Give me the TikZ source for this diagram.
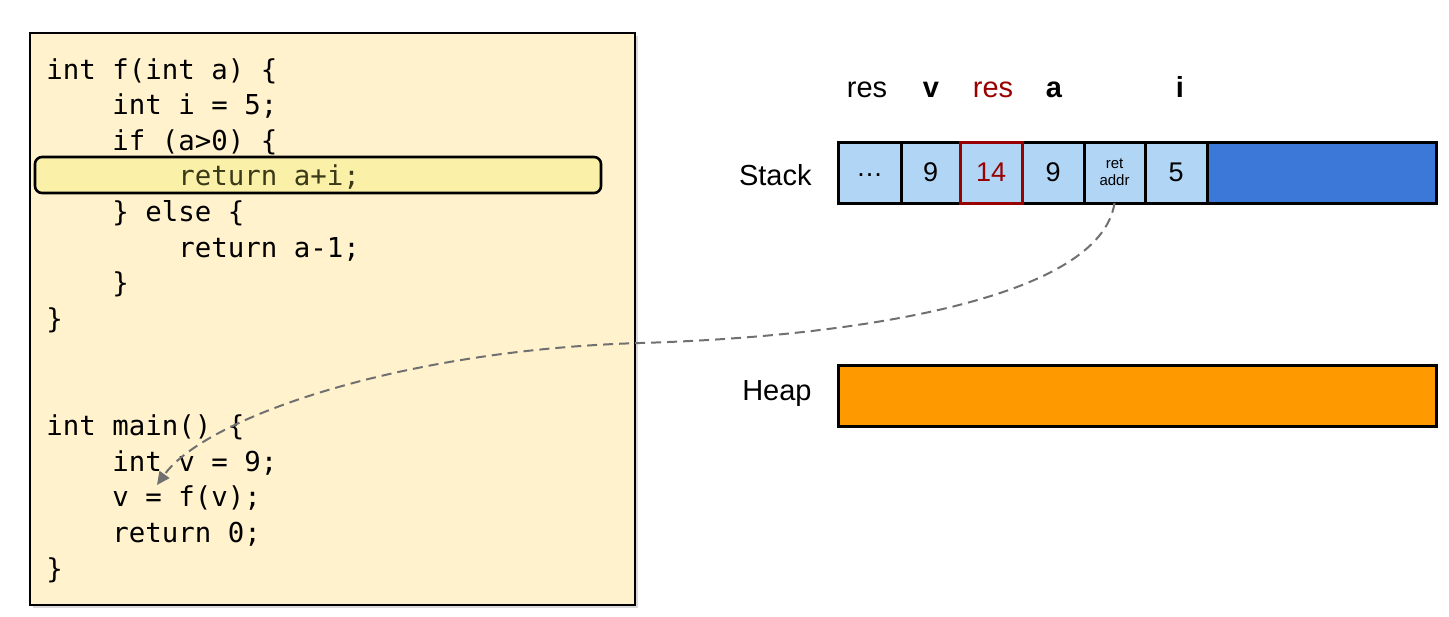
\documentclass[tikz,border=0pt]{standalone}
\usepackage{fontspec}
\setmainfont{Liberation Sans}
\setmonofont{DejaVu Sans Mono}
\usetikzlibrary{arrows.meta,shadows}

\definecolor{codebg}{HTML}{FFF2CC}
\definecolor{hlfill}{HTML}{FAF0A8}
\definecolor{hltext}{HTML}{3A3A18}
\definecolor{cellblue}{HTML}{B0D5F5}
\definecolor{freeblue}{HTML}{3C78D8}
\definecolor{heaporange}{HTML}{FF9900}
\definecolor{darkred}{HTML}{990000}
\definecolor{linkgray}{HTML}{707070}

\tikzset{
  codeline/.style={anchor=base west, inner sep=0pt, font=\ttfamily\fontsize{13.7}{17.8}\selectfont},
  varlabel/.style={anchor=base, inner sep=0pt, font=\fontsize{14.5}{17}\selectfont},
  regionlabel/.style={anchor=east, inner sep=0pt, font=\fontsize{14.5}{17}\selectfont},
  cell/.style={draw=black, line width=1.5pt, fill=cellblue, minimum height=30.5pt,
    inner sep=0pt, outer sep=0pt, font=\fontsize{13.5}{16}\selectfont},
  smallcell/.style={cell, align=center, font=\fontsize{7.5}{8.5}\selectfont},
  link/.style={draw=linkgray, line width=1pt, dash pattern=on 5pt off 3pt,
    -{Triangle[length=6.5pt,width=6pt]}},
}

\begin{document}
\begin{tikzpicture}[x=0.5pt, y=-0.5pt]
\useasboundingbox (0,0) rectangle (1449,616);

% source listing
\node[draw=black, line width=1pt, fill=codebg, minimum width=302.5pt, minimum height=286pt,
      inner sep=0pt, drop shadow={shadow xshift=1.5pt, shadow yshift=-1.5pt, opacity=0.3}]
  (code) at (332.5,319) {};
\node[draw=black, line width=1.3pt, fill=hlfill, rounded corners=3.5pt,
      minimum width=283pt, minimum height=18pt, inner sep=0pt] (current) at (318,175) {};

\node[codeline] (l0)  at (46,79)     {int f(int a) \{};
\node[codeline] (l1)  at (112,114.6) {int i = 5;};
\node[codeline] (l2)  at (112,150.3) {if (a>0) \{};
\node[codeline, text=hltext] (l3) at (178,185.9) {return a+i;};
\node[codeline] (l4)  at (112,221.6) {\} else \{};
\node[codeline] (l5)  at (178,257.2) {return a-1;};
\node[codeline] (l6)  at (112,292.9) {\}};
\node[codeline] (l7)  at (46,328.5)  {\}};
\node[codeline] (l10) at (46,435.5)  {int main() \{};
\node[codeline] (l11) at (112,471.1) {int v = 9;};
\node[codeline] (l12) at (112,506.8) {v = f(v);};
\node[codeline] (l13) at (112,542.4) {return 0;};
\node[codeline] (l14) at (46,578.1)  {\}};

% variable names above the stack
\node[varlabel] (n1) at (867,97)  {res};
\node[varlabel] (n2) at (931,97)  {\bfseries v};
\node[varlabel, text=darkred] (n3) at (993,97) {res};
\node[varlabel] (n4) at (1054,97) {\bfseries a};
\node[varlabel] (n5) at (1180,97) {\bfseries i};

% stack
\node[regionlabel] (stacklbl) at (812,175) {Stack};
\node[cell, minimum width=31.5pt] (c1) at (869.5,172.5) {\raisebox{-0.6ex}{\dots}};
\node[cell, minimum width=29.5pt] (c2) at (930.5,172.5) {9};
\node[cell, minimum width=31pt]   (c4) at (1053,172.5) {9};
\node[smallcell, minimum width=30.5pt] (c5) at (1114.5,172.5) {ret\\addr};
\node[cell, minimum width=31pt]   (c6) at (1176,172.5) {5};
\node[cell, fill=freeblue, minimum width=114.5pt] (c7) at (1321.5,172.5) {};
\node[cell, draw=darkred, text=darkred, minimum width=31pt] (c3) at (991,172.5) {14};

% heap
\node[regionlabel] (heaplbl) at (812,394) {Heap};
\node[cell, fill=heaporange, minimum width=299pt] (heap) at (1137,395.5) {};

% return address back into main
\coordinate (callsite) at (157,485);
\draw[link] (c5.south) .. controls (1100,300) and (850,337) .. (640,343)
  .. controls (400,350) and (205,418) .. (callsite);
\end{tikzpicture}
\end{document}
